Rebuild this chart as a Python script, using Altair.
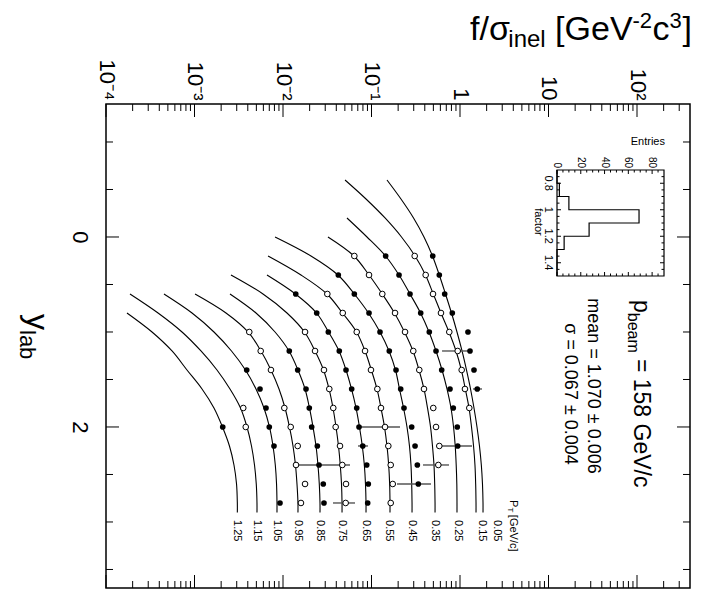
import altair as alt
import pandas as pd

# ---------------- data ----------------
# y_lab sampling grid of the fitted curves
Y_GRID = [-0.6, -0.4, -0.2, 0.0, 0.2, 0.4, 0.6, 0.8, 1.0, 1.2, 1.4, 1.6, 1.8, 2.0, 2.2, 2.4, 2.6, 2.8, 2.9]

PT_LIST = [0.05, 0.15, 0.25, 0.35, 0.45, 0.55, 0.65, 0.75, 0.85, 0.95, 1.05, 1.15, 1.25]
PT_TEXT = ["0.05", "0.15", "0.25", "0.35", "0.45", "0.55", "0.65", "0.75", "0.85", "0.95", "1.05", "1.15", "1.25"]

# log10(f/sigma_inel) of each curve, on the tail of Y_GRID
CURVE_005 = [-0.825, -0.667, -0.525, -0.407, -0.311, -0.234, -0.164, -0.096, -0.034, 0.023, 0.073, 0.119, 0.158, 0.192, 0.220, 0.241, 0.254, 0.260, 0.260]
CURVE_015 = [-1.299, -1.062, -0.847, -0.661, -0.508, -0.390, -0.302, -0.215, -0.124, -0.045, 0.015, 0.060, 0.102, 0.130, 0.153, 0.169, 0.177, 0.181, 0.181]
CURVE_025 = [-1.277, -1.051, -0.842, -0.689, -0.565, -0.446, -0.350, -0.271, -0.203, -0.147, -0.102, -0.073, -0.054, -0.043, -0.036, -0.034, -0.034]
CURVE_035 = [-1.492, -1.198, -1.028, -0.878, -0.740, -0.627, -0.531, -0.463, -0.407, -0.367, -0.333, -0.311, -0.294, -0.286, -0.282, -0.282]
CURVE_045 = [-2.090, -1.684, -1.379, -1.194, -1.034, -0.904, -0.802, -0.729, -0.684, -0.638, -0.599, -0.571, -0.554, -0.546, -0.542, -0.542]
CURVE_055 = [-2.169, -1.797, -1.503, -1.328, -1.169, -1.073, -1.002, -0.938, -0.893, -0.853, -0.825, -0.806, -0.795, -0.791, -0.791]
CURVE_065 = [-2.181, -1.859, -1.621, -1.486, -1.367, -1.288, -1.226, -1.175, -1.136, -1.104, -1.081, -1.068, -1.062, -1.062]
CURVE_075 = [-2.588, -2.226, -1.955, -1.757, -1.638, -1.542, -1.480, -1.435, -1.401, -1.373, -1.353, -1.339, -1.333, -1.333]
CURVE_085 = [-2.599, -2.305, -2.090, -1.932, -1.831, -1.751, -1.701, -1.661, -1.627, -1.605, -1.590, -1.582, -1.582]
CURVE_095 = [-2.994, -2.644, -2.395, -2.249, -2.136, -2.045, -1.977, -1.927, -1.887, -1.859, -1.842, -1.831, -1.831]
CURVE_105 = [-3.345, -3.028, -2.780, -2.582, -2.424, -2.305, -2.215, -2.153, -2.113, -2.087, -2.073, -2.068, -2.068]
CURVE_115 = [-3.729, -3.412, -3.141, -2.927, -2.746, -2.599, -2.480, -2.407, -2.356, -2.322, -2.302, -2.294, -2.294]
CURVE_125 = [-3.763, -3.480, -3.254, -3.085, -2.915, -2.780, -2.684, -2.605, -2.554, -2.525, -2.516, -2.516]
CURVES = [CURVE_005, CURVE_015, CURVE_025, CURVE_035, CURVE_045, CURVE_055, CURVE_065,
          CURVE_075, CURVE_085, CURVE_095, CURVE_105, CURVE_115, CURVE_125]

# curve labels (log10 position, same order as PT_LIST)
LABEL_LOGF = [0.418, 0.249, -0.023, -0.282, -0.542, -0.797, -1.062, -1.333, -1.582, -1.831, -2.068, -2.294, -2.516]
LABEL_Y = 2.98

# data points per y_lab row: log10 values (left to right) and kind (F filled, O open)
P02 = [-1.194, -0.840, -0.512, -0.308]; K02 = "OFOF"
P04 = [-1.375, -1.028, -0.689, -0.388, -0.234]; K04 = "FOFOF"
P06 = [-1.856, -1.499, -1.194, -0.878, -0.565, -0.305, -0.173]; K06 = "FOFOFOF"
P08 = [-1.619, -1.325, -1.028, -0.734, -0.444, -0.215, -0.087]; K08 = "FOFOFOF"
P10 = [-2.381, -1.751, -1.488, -1.167, -0.904, -0.621, -0.347, -0.121, 0.090]; K10 = "OOFOFOFOF"
P12 = [-2.252, -1.929, -1.638, -1.364, -1.073, -0.799, -0.528, -0.271, -0.026, 0.113]; K12 = "OFOFOFOFOF"
P14 = [-2.410, -2.136, -1.834, -1.537, -1.288, -1.006, -0.723, -0.460, -0.207, 0.019, 0.158]; K14 = "FOFOFOFOFOF"
P16 = [-2.260, -1.740, -1.477, -1.224, -0.934, -0.670, -0.407, -0.113, 0.056, 0.195]; K16 = "FFOFOFOFOF"
P18 = [-2.449, -2.192, -1.985, -1.703, -1.432, -1.167, -0.893, -0.633, -0.302, -0.076, 0.105]; K18 = "OFOFOFOFOFO"
P20 = [-2.681, -2.421, -2.155, -1.913, -1.676, -1.405, -1.141, -0.847, -0.546, -0.271, -0.031]; K20 = "FOFOFOFOFOF"
P22 = [-2.102, -1.834, -1.612, -1.356, -1.099, -0.810, -0.508, -0.234, -0.026]; K22 = "FOFOFOFOF"
P24 = [-1.853, -1.593, -1.330, -1.054, -0.783, -0.482, -0.245]; K24 = "OFOFOFO"
P26 = [-1.751, -1.545, -1.288, -1.036, -0.760, -0.471]; K26 = "OFOFOF"
P28 = [-2.034, -1.797, -1.537, -1.292, -1.043, -0.783]; K28 = "FOFOFO"
ROWS = [(0.2, P02, K02), (0.4, P04, K04), (0.6, P06, K06), (0.8, P08, K08), (1.0, P10, K10),
        (1.2, P12, K12), (1.4, P14, K14), (1.6, P16, K16), (1.8, P18, K18), (2.0, P20, K20),
        (2.2, P22, K22), (2.4, P24, K24), (2.6, P26, K26), (2.8, P28, K28)]

# horizontal error bars (y_lab, log10 low, log10 high)
ERR_Y = [1.2, 1.6, 2.0, 2.2, 2.2, 2.4, 2.4, 2.6, 2.8]
ERR_LO = [-0.203, 0.147, -1.141, -1.153, -0.260, -1.853, -0.418, -0.712, -1.435]
ERR_HI = [0.136, 0.249, -0.678, -1.040, 0.136, -1.243, -0.124, -0.328, -1.186]

# axis ticks
X_MAJOR = [1e-4, 1e-3, 1e-2, 1e-1, 1, 10, 100]
X_LABELS = ["10⁻⁴", "10⁻³", "10⁻²", "10⁻¹", "1", "10", "10²"]
X_MINOR = [m * d for d in X_MAJOR[:-1] for m in range(2, 10)] + [200, 300]
Y_MAJOR = [0, 2]
Y_MINOR = [-1.0, -0.5, 0.5, 1.0, 1.5, 2.5, 3.0, 3.5]

# inset histogram
HIST_FACTOR = [0.7, 0.8, 0.9, 1.0, 1.1, 1.2, 1.3, 1.5]
HIST_ENTRIES = [0, 2, 10, 69, 27, 6, 0, 0]
INSET_X_MAJOR = [0, 20, 40, 60, 80]
INSET_X_MINOR = [5, 10, 15, 25, 30, 35, 45, 50, 55, 65, 70, 75, 85]
INSET_Y_MAJOR = [0.8, 1.0, 1.2, 1.4]
INSET_Y_LABELS = ["0.8", "1", "1.2", "1.4"]
INSET_Y_MINOR = [0.75, 0.85, 0.9, 0.95, 1.05, 1.1, 1.15, 1.25, 1.3, 1.35, 1.45]

# annotations inside the plot (text, log10 f, y_lab, size, align, baseline)
ANNOTATIONS = [
    ("p", 1.966, 0.663, 23, "left", "alphabetic"),
    ("beam", 1.898, 0.798, 16, "left", "alphabetic"),
    ("= 158 GeV/c", 1.966, 1.284, 23, "left", "alphabetic"),
    ("mean = 1.070 ± 0.006", 1.446, 1.568, 18, "center", "alphabetic"),
    ("σ = 0.067 ± 0.004", 1.186, 1.653, 18, "center", "alphabetic"),
    ("P", 0.602, 2.768, 11, "left", "middle"),
    ("T", 0.565, 2.847, 8, "left", "middle"),
    ("[GeV/c]", 0.602, 2.925, 11, "left", "middle"),
]

# ---------------- layout ----------------
W, H = 584, 484
FONT = "Liberation Sans"
X_DOMAIN = [1e-4, 397]
Y_DOMAIN = [-1.4, 3.695]
MAJ, MIN = 13, 7

label_expr = "[" + ",".join("'%s'" % s for s in X_LABELS) + "][round(log(datum.value)/LN10)+4]"
top_axis = alt.Axis(orient="top", values=X_MAJOR, labelExpr=label_expr, labelAngle=90,
                    labelAlign="right", labelBaseline="middle", labelPadding=4,
                    labelFontSize=22, labelFont=FONT, labelColor="black",
                    ticks=False, tickSize=0, domain=False, grid=False,
                    labelFlush=False, labelOverlap=False, title=None)
left_axis = alt.Axis(orient="left", values=Y_MAJOR, format="d", labelAngle=90,
                     labelAlign="center", labelBaseline="top", labelPadding=17,
                     labelFontSize=22, labelFont=FONT, labelColor="black",
                     ticks=False, tickSize=0, domain=False, grid=False,
                     labelFlush=False, labelOverlap=False, title=None)


def X(field):
    return alt.X(field, type="quantitative",
                 scale=alt.Scale(type="log", domain=X_DOMAIN, nice=False, zero=False),
                 axis=top_axis)


def Y(field):
    return alt.Y(field, type="quantitative",
                 scale=alt.Scale(domain=Y_DOMAIN, reverse=True, nice=False, zero=False),
                 axis=left_axis)


# curves
curve_rows = []
for pt, vals in zip(PT_LIST, CURVES):
    for y, L in zip(Y_GRID[-len(vals):], vals):
        curve_rows.append({"pt": pt, "y": y, "f": 10 ** L})
curves = alt.Chart(pd.DataFrame(curve_rows)).mark_line(
    color="black", strokeWidth=1.1, interpolate="catmull-rom"
).encode(x=X("f"), y=Y("y"), detail="pt:N", order="y:Q")

# points
pt_rows = []
for y, vals, kinds in ROWS:
    for L, k in zip(vals, kinds):
        pt_rows.append({"y": y, "f": 10 ** L, "kind": k})
pts = pd.DataFrame(pt_rows)
filled = alt.Chart(pts[pts.kind == "F"]).mark_point(
    shape="circle", filled=True, color="black", size=32, opacity=1
).encode(x=X("f"), y=Y("y"))
opened = alt.Chart(pts[pts.kind == "O"]).mark_point(
    shape="circle", fill="white", stroke="black", strokeWidth=1, size=32, opacity=1, fillOpacity=1
).encode(x=X("f"), y=Y("y"))

# error bars
err = pd.DataFrame({"y": ERR_Y, "lo": [10 ** v for v in ERR_LO], "hi": [10 ** v for v in ERR_HI]})
errbars = alt.Chart(err).mark_rule(color="#555555", strokeWidth=1.4).encode(
    x=X("lo"), x2="hi", y=Y("y"))


def xticks(vals, y0, y1):
    return alt.Chart(pd.DataFrame({"v": vals})).mark_rule(color="black", strokeWidth=1).encode(
        x=X("v"), y=alt.value(y0), y2=alt.value(y1))


def yticks(vals, x0, x1):
    return alt.Chart(pd.DataFrame({"v": vals})).mark_rule(color="black", strokeWidth=1).encode(
        y=Y("v"), x=alt.value(x0), x2=alt.value(x1))


main_ticks = [
    xticks(X_MAJOR, 0, MAJ), xticks(X_MINOR, 0, MIN),
    xticks(X_MAJOR, H, H - MAJ), xticks(X_MINOR, H, H - MIN),
    yticks(Y_MAJOR, 0, MAJ), yticks(Y_MINOR, 0, MIN),
    yticks(Y_MAJOR, W, W - MAJ), yticks(Y_MINOR, W, W - MIN),
]

# curve labels
lab_df = pd.DataFrame({"t": PT_TEXT, "f": [10 ** v for v in LABEL_LOGF], "y": [LABEL_Y] * len(PT_TEXT)})
curve_labels = alt.Chart(lab_df).mark_text(
    angle=90, align="left", baseline="middle", fontSize=11, font=FONT, color="black"
).encode(x=X("f"), y=Y("y"), text="t:N")

# annotations
ann_layers = []
for txt, L, y, size, align, base in ANNOTATIONS:
    ann_layers.append(
        alt.Chart(pd.DataFrame({"f": [10 ** L], "y": [y], "t": [txt]})).mark_text(
            angle=90, align=align, baseline=base, fontSize=size, font=FONT, color="black"
        ).encode(x=X("f"), y=Y("y"), text="t:N")
    )

main = alt.layer(curves, errbars, opened, filled, *main_ticks, curve_labels, *ann_layers)

# ---------------- inset ----------------
IX0, IX1, IY0, IY1 = 451, 558, 66, 172


def IX(field):
    return alt.X(field, type="quantitative",
                 scale=alt.Scale(domain=[0, 90], range=[IX0, IX1], nice=False, zero=False), axis=None)


def IY(field):
    return alt.Y(field, type="quantitative",
                 scale=alt.Scale(domain=[0.7, 1.5], range=[IY0, IY1], nice=False, zero=False), axis=None)


frame = alt.Chart(pd.DataFrame({"x0": [0], "x1": [90], "y0": [0.7], "y1": [1.5]})).mark_rect(
    fill="white", stroke="black", strokeWidth=1.2
).encode(x=IX("x0"), x2="x1", y=IY("y0"), y2="y1")

hist = alt.Chart(pd.DataFrame({"n": HIST_ENTRIES, "fac": HIST_FACTOR})).mark_line(
    interpolate="step-before", color="black", strokeWidth=1.2
).encode(x=IX("n"), y=IY("fac"), order="fac:Q")


def ixticks(vals, y0, y1):
    return alt.Chart(pd.DataFrame({"v": vals})).mark_rule(color="black", strokeWidth=1).encode(
        x=IX("v"), y=alt.value(y0), y2=alt.value(y1))


def iyticks(vals, x0, x1):
    return alt.Chart(pd.DataFrame({"v": vals})).mark_rule(color="black", strokeWidth=1).encode(
        y=IY("v"), x=alt.value(x0), x2=alt.value(x1))


inset_ticks = [
    ixticks(INSET_X_MAJOR, IY0, IY0 + 4), ixticks(INSET_X_MINOR, IY0, IY0 + 2.5),
    ixticks(INSET_X_MAJOR, IY1, IY1 - 4), ixticks(INSET_X_MINOR, IY1, IY1 - 2.5),
    iyticks(INSET_Y_MAJOR, IX0, IX0 + 4), iyticks(INSET_Y_MINOR, IX0, IX0 + 2.5),
    iyticks(INSET_Y_MAJOR, IX1, IX1 - 4), iyticks(INSET_Y_MINOR, IX1, IX1 - 2.5),
]

ix_labels = alt.Chart(pd.DataFrame({"v": INSET_X_MAJOR, "t": [str(v) for v in INSET_X_MAJOR]})).mark_text(
    angle=90, align="right", baseline="middle", fontSize=10, font=FONT, color="black"
).encode(x=IX("v"), y=alt.value(IY0 - 2), text="t:N")
iy_labels = alt.Chart(pd.DataFrame({"v": INSET_Y_MAJOR, "t": INSET_Y_LABELS})).mark_text(
    angle=90, align="center", baseline="top", fontSize=11, font=FONT, color="black"
).encode(y=IY("v"), x=alt.value(IX0 - 3), text="t:N")

inset = alt.layer(frame, hist, *inset_ticks, ix_labels, iy_labels)


# ---------------- free texts (pixel placed) ----------------
def ptext(txt, px, py, size, angle=0, align="left", base="alphabetic"):
    return alt.Chart(alt.Data(values=[{"a": 1}])).mark_text(
        text=txt, angle=angle, align=align, baseline=base, fontSize=size, font=FONT, color="black"
    ).encode(x=alt.value(px), y=alt.value(py))


free = [
    ptext("f/σ", 364, -64, 34), ptext("inel", 402.3, -57, 24), ptext("[GeV", 449.1, -64, 34),
    ptext("-2", 526.5, -76, 22), ptext("c", 546.5, -64, 34), ptext("3", 563.5, -76, 22),
    ptext("]", 576.5, -64, 34),
    ptext("y", -79, 210, 32, angle=90), ptext("lab", -86, 226, 22, angle=90),
    ptext("Entries", IX1 + 1, 41, 11, align="right"),
    ptext("factor", 432, 118, 11, angle=90, align="center", base="middle"),
]

chart = alt.layer(main, inset, *free).resolve_scale(x="independent", y="independent").properties(
    width=W, height=H,
    autosize=alt.AutoSizeParams(type="none"),
    padding={"left": 98, "top": 96, "right": 5, "bottom": 10},
).configure_view(stroke="black", strokeWidth=1.5)

chart.save("out.html", embed_options={"renderer": "svg", "actions": False})
